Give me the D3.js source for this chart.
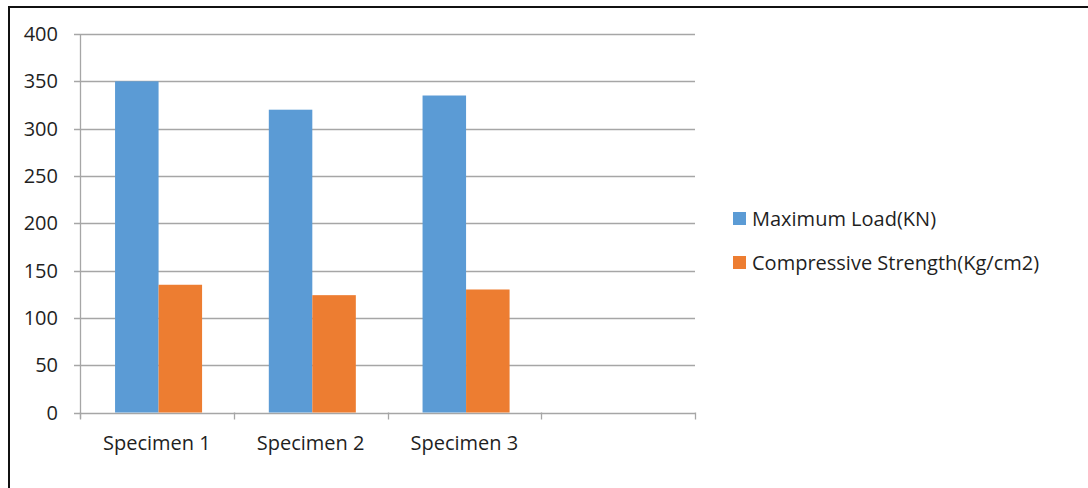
<!DOCTYPE html>
<html lang="en">
<head>
  <meta charset="UTF-8">
  <title>Maximum Load and Compressive Strength</title>
  <script src="https://cdn.jsdelivr.net/npm/d3@7"></script>
  <style>
    body { margin: 0; background: #fff; }
    svg { display: block; font-family: 'Open Sans', sans-serif; }
  </style>
</head>
<body>
  <script>
    // data
    const categories = ["Specimen 1", "Specimen 2", "Specimen 3", ""];
    const seriesNames = ["Maximum Load(KN)", "Compressive Strength(Kg/cm2)"];
    const maxLoad = [350, 320, 335, null];
    const compStrength = [135, 124, 130, null];
    const yTicks = [0, 50, 100, 150, 200, 250, 300, 350, 400];
    const colors = ["#5b9bd5", "#ed7d31"];

    const width = 1088, height = 488;
    const plot = { left: 80, right: 695, top: 34, bottom: 412.5 };
    const fontSize = 20;
    const textColor = "#1f1f1f";

    const svg = d3.select("body").append("svg")
        .attr("width", width)
        .attr("height", height);

    // frame (only left and top edges are visible in the crop)
    svg.append("path")
        .attr("d", `M9,${height} V7 H${width}`)
        .attr("fill", "none")
        .attr("stroke", "#111")
        .attr("stroke-width", 2);

    const y = d3.scaleLinear().domain([0, 400]).range([plot.bottom, plot.top]);
    const x0 = d3.scaleBand().domain(categories).range([plot.left, plot.right]).padding(0);
    const bw = x0.bandwidth();
    const x1 = d3.scaleBand().domain(seriesNames).range([bw * 0.228, bw * 0.794]).padding(0);

    // gridlines
    svg.append("g")
      .selectAll("line")
      .data(yTicks)
      .join("line")
        .attr("x1", plot.left - 6)
        .attr("x2", plot.right)
        .attr("y1", d => Math.round(y(d)) + 0.5)
        .attr("y2", d => Math.round(y(d)) + 0.5)
        .attr("stroke", "#a6a6a6")
        .attr("stroke-width", 1.3);

    // y axis line
    svg.append("line")
        .attr("x1", plot.left + 0.5).attr("x2", plot.left + 0.5)
        .attr("y1", plot.top).attr("y2", plot.bottom + 6)
        .attr("stroke", "#a6a6a6")
        .attr("stroke-width", 1.3);

    // x tick marks at band edges
    const edges = categories.map(c => x0(c)).concat([plot.right]);
    svg.append("g")
      .selectAll("line")
      .data(edges)
      .join("line")
        .attr("x1", d => Math.round(d) + 0.5)
        .attr("x2", d => Math.round(d) + 0.5)
        .attr("y1", plot.bottom)
        .attr("y2", plot.bottom + 7)
        .attr("stroke", "#a6a6a6")
        .attr("stroke-width", 1.3);

    // y labels
    svg.append("g")
      .selectAll("text")
      .data(yTicks)
      .join("text")
        .attr("x", 58)
        .attr("y", d => y(d))
        .attr("dy", "0.35em")
        .attr("text-anchor", "end")
        .attr("fill", textColor)
        .attr("font-size", fontSize)
        .text(d => d);

    // x labels
    svg.append("g")
      .selectAll("text")
      .data(categories)
      .join("text")
        .attr("x", d => x0(d) + bw / 2)
        .attr("y", 450)
        .attr("text-anchor", "middle")
        .attr("fill", textColor)
        .attr("font-size", fontSize)
        .text(d => d);

    // bars
    const rows = categories.map((c, i) => ({ cat: c, values: [maxLoad[i], compStrength[i]] }));
    svg.append("g")
      .selectAll("g")
      .data(rows)
      .join("g")
        .attr("transform", d => `translate(${x0(d.cat)},0)`)
      .selectAll("rect")
      .data(d => d.values.map((v, k) => ({ name: seriesNames[k], v, k })).filter(e => e.v != null))
      .join("rect")
        .attr("x", d => x1(d.name))
        .attr("width", x1.bandwidth())
        .attr("y", d => y(d.v))
        .attr("height", d => y(0) - y(d.v))
        .attr("fill", d => colors[d.k]);

    // legend
    const legend = svg.append("g")
      .selectAll("g")
      .data(seriesNames)
      .join("g")
        .attr("transform", (d, i) => `translate(733,${212 + i * 44})`);
    legend.append("rect")
        .attr("width", 13)
        .attr("height", 13)
        .attr("fill", (d, i) => colors[i]);
    legend.append("text")
        .attr("x", 19)
        .attr("y", 7)
        .attr("dy", "0.35em")
        .attr("fill", textColor)
        .attr("font-size", fontSize)
        .text(d => d);
  </script>
</body>
</html>
